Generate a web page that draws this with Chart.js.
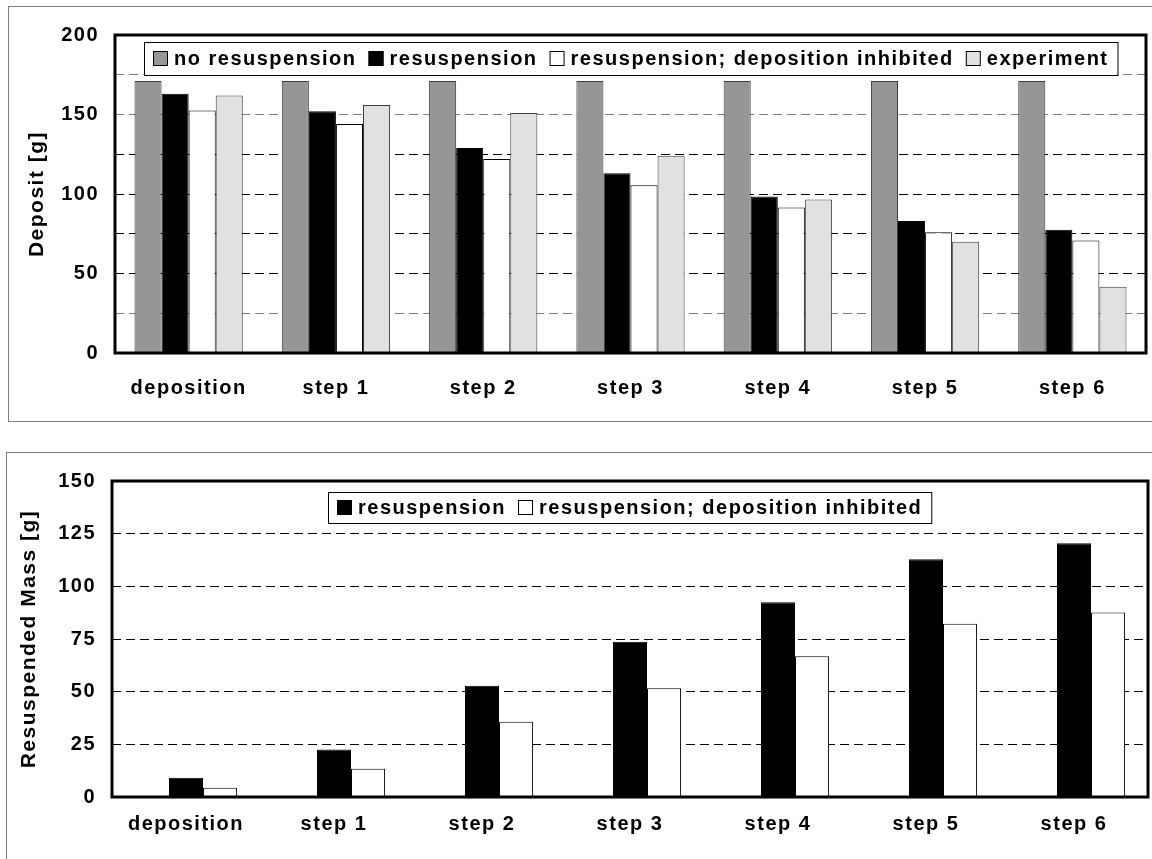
<!DOCTYPE html>
<html>
<head>
<meta charset="utf-8">
<script src="https://cdn.jsdelivr.net/npm/chart.js@4.4.1/dist/chart.umd.min.js"></script>
<style>
  body { margin: 0; background: #fff; overflow: hidden; }
  .frame { position: absolute; border: 1px solid #808080; box-sizing: border-box; background: #fff; }
  .frame canvas { position: absolute; left: 0; top: 0; }
</style>
</head>
<body>
<div class="frame" style="left:8px; top:6px; width:1160px; height:416px;">
  <canvas id="depositChart" width="1143" height="413"></canvas>
</div>
<div class="frame" style="left:6px; top:452px; width:1160px; height:430px;">
  <canvas id="resuspChart" width="1145" height="406"></canvas>
</div>
<script>
// categories shared by both panels
const steps = ["deposition", "step 1", "step 2", "step 3", "step 4", "step 5", "step 6"];

// top panel: deposit [g]
const depositNoResusp   = [171, 171, 171, 171, 171, 171, 171];
const depositResusp     = [163, 152, 129, 113, 98.5, 83, 77.5];
const depositInhibited  = [152.5, 144, 122, 105.5, 91.5, 76, 70.8];
const depositExperiment = [162, 156, 151, 124, 96.5, 70, 41.7];

// bottom panel: resuspended mass [g] (first slot is empty in the original)
const resuspNone      = [null, null, null, null, null, null, null];
const resuspResusp    = [9.1, 22.6, 52.8, 73.7, 92.4, 112.8, 120.4];
const resuspInhibited = [4.4, 13.4, 35.7, 51.6, 66.8, 82.2, 87.6];

const FONT_FAMILY = "'Liberation Sans', Arial, sans-serif";
const FONT_SIZE = 20;
const SPACING = "1.5px";

const spacingPlugin = {
  id: "spacing",
  beforeDraw(chart) { chart.ctx.letterSpacing = SPACING; },
};

const framePlugin = {
  id: "plotFrame",
  afterDatasetsDraw(chart) {
    const { ctx, chartArea: a } = chart;
    ctx.save();
    ctx.strokeStyle = "#000";
    ctx.lineWidth = 3;
    ctx.strokeRect(a.left, a.top, a.right - a.left, a.bottom - a.top);
    ctx.restore();
  },
};

const boxLegend = {
  id: "boxLegend",
  afterDraw(chart, args, opts) {
    const { ctx, chartArea: a } = chart;
    const items = chart.data.datasets.filter((d) => !d.noLegend);
    ctx.save();
    ctx.font = `bold ${FONT_SIZE}px ${FONT_FAMILY}`;
    ctx.letterSpacing = SPACING;
    const sq = 15, gapIn = 6, gapOut = 12, pad = 9;
    const widths = items.map((d) => ctx.measureText(d.label).width);
    const total = pad * 2 + widths.reduce((s, w) => s + sq + gapIn + w, 0) + gapOut * (items.length - 1);
    let x = Math.round((a.left + a.right) / 2 - total / 2);
    const y = Math.round(a.top + opts.offset);
    const h = opts.height;
    ctx.fillStyle = "#fff";
    ctx.fillRect(x, y, total, h);
    ctx.strokeStyle = "#000";
    ctx.lineWidth = 1;
    ctx.strokeRect(x + 0.5, y + 0.5, total, h);
    x += pad;
    const cy = y + h / 2;
    items.forEach((d, i) => {
      ctx.fillStyle = d.backgroundColor;
      ctx.fillRect(x, Math.round(cy - sq / 2), sq, sq);
      ctx.strokeStyle = "#000";
      ctx.strokeRect(x + 0.5, Math.round(cy - sq / 2) + 0.5, sq - 1, sq - 1);
      x += sq + gapIn;
      ctx.fillStyle = "#000";
      ctx.textBaseline = "middle";
      ctx.textAlign = "left";
      ctx.fillText(d.label, x, cy + 1);
      x += widths[i] + gapOut;
    });
    ctx.restore();
  },
};

function makeOptions(cfg) {
  const font = { family: FONT_FAMILY, size: FONT_SIZE, weight: "bold" };
  return {
    responsive: false,
    animation: false,
    layout: { padding: { top: cfg.top, right: cfg.right, left: 0, bottom: 0 } },
    plugins: {
      legend: { display: false },
      tooltip: { enabled: false },
      boxLegend: { offset: cfg.legendOffset, height: cfg.legendHeight },
    },
    datasets: { bar: { categoryPercentage: cfg.catPct, barPercentage: 1, borderSkipped: "start" } },
    scales: {
      x: {
        grid: { display: false },
        border: { display: false },
        ticks: { color: "#000", padding: cfg.xPad, maxRotation: 0, font },
        afterFit: (s) => { s.height = cfg.xHeight; },
      },
      y: {
        min: 0,
        max: cfg.yMax,
        grid: { drawTicks: false, lineWidth: 1, color: cfg.gridColor },
        border: { display: false, dash: [9, 5] },
        ticks: { stepSize: 25, color: "#000", padding: 16, font, callback: cfg.tickCb },
        title: {
          display: true,
          text: cfg.title,
          color: "#000",
          padding: { top: cfg.titlePad, bottom: 0 },
          font: { family: FONT_FAMILY, size: 21, weight: "bold" },
        },
        afterFit: (s) => { s.width = cfg.yWidth; },
      },
    },
  };
}

new Chart(document.getElementById("depositChart"), {
  type: "bar",
  data: {
    labels: steps,
    datasets: [
      { label: "no resuspension", data: depositNoResusp, backgroundColor: "#969696", borderColor: "#3c3c3c", borderWidth: 1 },
      { label: "resuspension", data: depositResusp, backgroundColor: "#000000", borderColor: "#000000", borderWidth: 1 },
      { label: "resuspension; deposition inhibited", data: depositInhibited, backgroundColor: "#ffffff", borderColor: "#000000", borderWidth: 1 },
      { label: "experiment", data: depositExperiment, backgroundColor: "#e1e1e1", borderColor: "#3c3c3c", borderWidth: 1 },
    ],
  },
  options: makeOptions({
    top: 23, right: 6, xHeight: 67, yWidth: 106, xPad: 15,
    catPct: 0.735, yMax: 200, title: "Deposit [g]", titlePad: 16,
    legendOffset: 7, legendHeight: 33,
    tickCb: (v) => (v % 50 === 0 ? v : ""),
    gridColor: (c) => ([25, 150, 175].includes(c.tick.value) ? "#808080" : "#000"),
  }),
  plugins: [spacingPlugin, framePlugin, boxLegend],
});

new Chart(document.getElementById("resuspChart"), {
  type: "bar",
  data: {
    labels: steps,
    datasets: [
      { label: "no resuspension", data: resuspNone, backgroundColor: "#969696", noLegend: true },
      { label: "resuspension", data: resuspResusp, backgroundColor: "#000000", borderColor: "#000000", borderWidth: 1 },
      { label: "resuspension; deposition inhibited", data: resuspInhibited, backgroundColor: "#ffffff", borderColor: "#000000", borderWidth: 1 },
    ],
  },
  options: makeOptions({
    top: 22, right: 4, xHeight: 62, yWidth: 105, xPad: 7,
    catPct: 0.69, yMax: 150, title: "Resuspended Mass [g]", titlePad: 10,
    legendOffset: 11, legendHeight: 31,
    tickCb: (v) => v,
    gridColor: "#000",
  }),
  plugins: [spacingPlugin, framePlugin, boxLegend],
});
</script>
</body>
</html>
